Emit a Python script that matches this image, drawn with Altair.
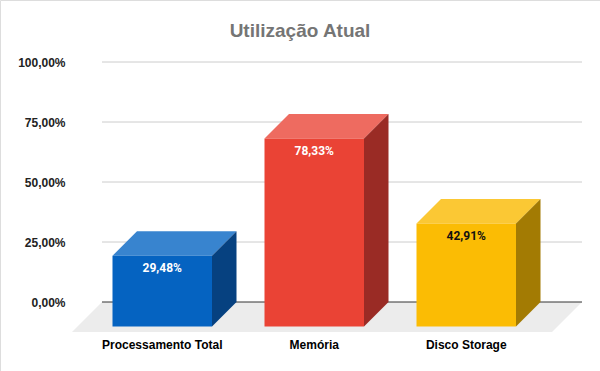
import altair as alt
import pandas as pd

# ---------------- data ----------------
categories = ["Processamento Total", "Memória", "Disco Storage"]
values = [29.48, 78.33, 42.91]
y_ticks = [0, 25, 50, 75, 100]
title_text = "Utilização Atual"

# ---------------- styles ----------------
front_colors = ["#0563c1", "#ea4335", "#fbbc04"]
top_colors = ["#3884cf", "#ee6b60", "#fbc834"]
side_colors = ["#064180", "#9a2b25", "#a37b03"]
label_colors = ["#ffffff", "#ffffff", "#111111"]
floor_color = "#ececec"

# ---------------- layout (pixels) ----------------
W, H = 600, 371
PX_PER_UNIT = 2.4          # pixels per percentage point
ZERO_PX = 302              # pixel row of the 0% line (back wall)
Y_MIN = -(H - ZERO_PX) / PX_PER_UNIT
Y_MAX = ZERO_PX / PX_PER_UNIT
FIRST_LEFT = 112.5
STEP = 152
BAR_W = 99.5
DEPTH = 24.5
DV = DEPTH / PX_PER_UNIT
FLOOR_X0, FLOOR_X1, FLOOR_DEPTH = 72, 552, 30
FD = FLOOR_DEPTH / PX_PER_UNIT
GRID_X0, GRID_X1 = FLOOR_X0 + FLOOR_DEPTH, FLOOR_X1 + FLOOR_DEPTH


def fmt(v):
    return f"{v:.2f}".replace(".", ",") + "%"


# front faces / labels
front_rows, top_rows, side_rows = [], [], []
for i, (cat, v) in enumerate(zip(categories, values)):
    L = FIRST_LEFT + STEP * i
    R = L + BAR_W
    front_rows.append(dict(cat=cat, x=L, x2=R, y=-DV, y2=v - DV, xc=(L + R) / 2,
                           col=front_colors[i], lab=fmt(v), labcol=label_colors[i]))
    for x, lo, hi in [(L, v - DV, v - DV), (L + DEPTH, v - DV, v), (R, v - DV, v), (R + DEPTH, v, v)]:
        top_rows.append(dict(face=f"top{i}", x=x, lo=lo, hi=hi, col=top_colors[i]))
    for x, lo, hi in [(R, -DV, v - DV), (R + DEPTH, 0, v)]:
        side_rows.append(dict(face=f"side{i}", x=x, lo=lo, hi=hi, col=side_colors[i]))

front_df = pd.DataFrame(front_rows)
faces_df = pd.DataFrame(top_rows + side_rows)
floor_df = pd.DataFrame([
    dict(face="floor", x=FLOOR_X0, lo=-FD, hi=-FD, col=floor_color),
    dict(face="floor", x=FLOOR_X0 + FLOOR_DEPTH, lo=-FD, hi=0, col=floor_color),
    dict(face="floor", x=FLOOR_X1, lo=-FD, hi=0, col=floor_color),
    dict(face="floor", x=FLOOR_X1 + FLOOR_DEPTH, lo=0, hi=0, col=floor_color),
])
grid_df = pd.DataFrame(dict(t=y_ticks, x=[GRID_X0] * len(y_ticks), x2=[GRID_X1] * len(y_ticks),
                            col=["#333333" if t == 0 else "#cccccc" for t in y_ticks]))
cat_df = pd.DataFrame(dict(cat=categories, xc=[FIRST_LEFT + STEP * i + BAR_W / 2 for i in range(len(categories))],
                           y=[-FD] * len(categories)))

xs = alt.Scale(domain=[0, W], nice=False, zero=False)
ys = alt.Scale(domain=[Y_MIN, Y_MAX], nice=False, zero=False)
yaxis = alt.Axis(values=y_ticks, offset=-FLOOR_X0, domain=False, ticks=False, tickSize=0, grid=False,
                 labelPadding=7, labelFont="Liberation Sans", labelFontWeight="bold", labelFontSize=12,
                 labelColor="#222222", labelExpr="replace(format(datum.value, '.2f'), '.', ',') + '%'",
                 title=None)


def X(f):
    return alt.X(f, type="quantitative", scale=xs, axis=None)


def Y(f):
    return alt.Y(f, type="quantitative", scale=ys, axis=yaxis, stack=None)


floor = alt.Chart(floor_df).mark_area(interpolate="linear").encode(
    x=X("x"), y=Y("lo"), y2="hi", detail="face:N", color=alt.Color("col:N", scale=None))

grid = alt.Chart(grid_df).mark_rule(strokeWidth=1).encode(
    x=X("x"), x2="x2", y=Y("t"), color=alt.Color("col:N", scale=None))

faces = alt.Chart(faces_df).mark_area(interpolate="linear").encode(
    x=X("x"), y=Y("lo"), y2="hi", detail="face:N", color=alt.Color("col:N", scale=None))

front = alt.Chart(front_df).mark_rect().encode(
    x=X("x"), x2="x2", y=Y("y"), y2="y2", color=alt.Color("col:N", scale=None))

vlabels = alt.Chart(front_df).mark_text(font="Roboto", fontWeight="bold", fontSize=12, dy=12,
                                        baseline="middle", align="center").encode(
    x=X("xc"), y=Y("y2"), text="lab:N", color=alt.Color("labcol:N", scale=None))

clabels = alt.Chart(cat_df).mark_text(font="Liberation Sans", fontWeight="bold", fontSize=12, dy=13,
                                      baseline="middle", align="center", color="#000000").encode(
    x=X("xc"), y=Y("y"), text="cat:N")

chart = alt.layer(floor, grid, faces, front, vlabels, clabels).properties(
    width=W, height=H,
    title=alt.TitleParams(title_text, font="Liberation Sans", fontSize=19, fontWeight="bold",
                          color="#757575", anchor="middle", frame="group", offset=-41),
    autosize=alt.AutoSizeParams(type="none"),
    padding=0,
).configure_view(stroke=None).configure(background="#ffffff")

chart.save("out.html", embed_options={"renderer": "svg", "actions": False})
